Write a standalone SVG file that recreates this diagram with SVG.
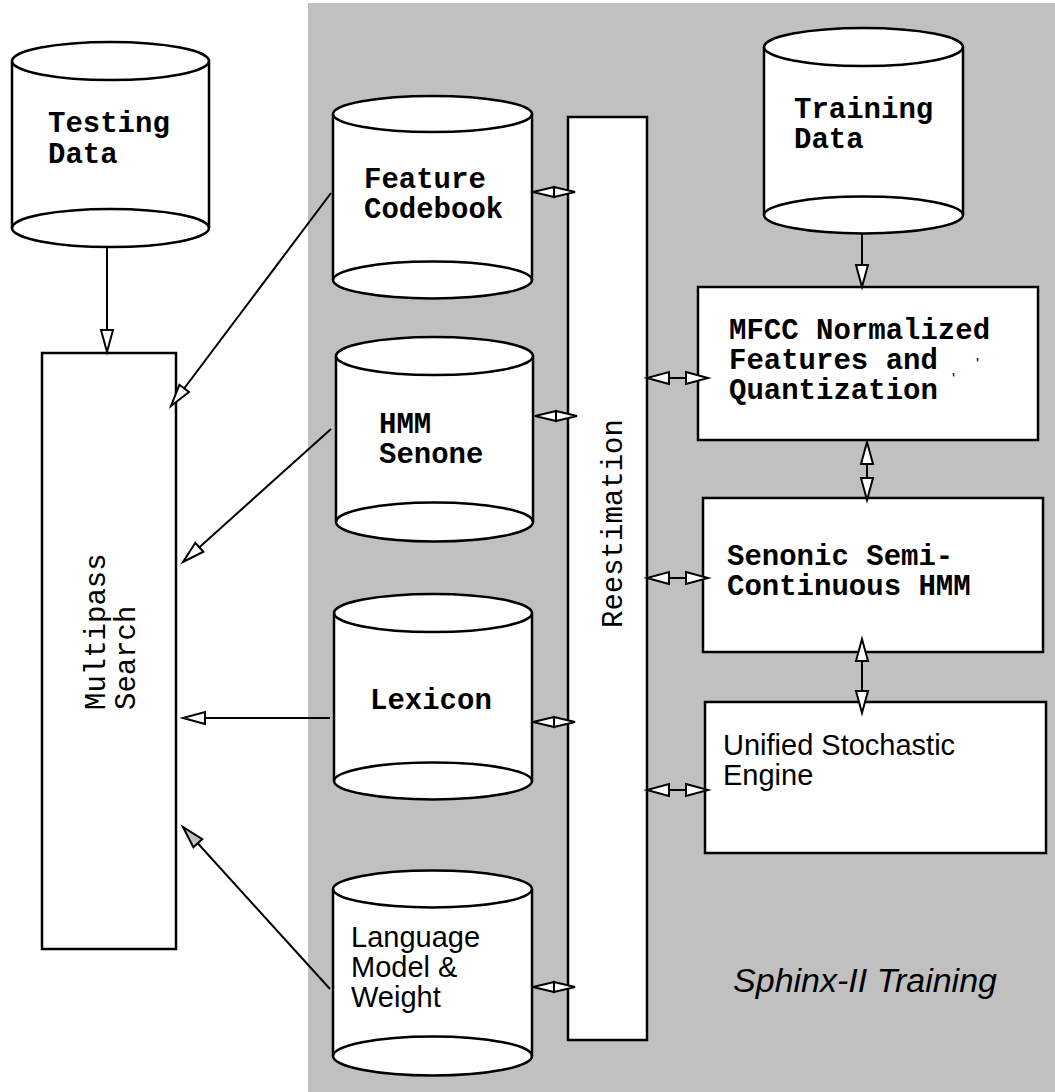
<svg xmlns="http://www.w3.org/2000/svg" width="1055" height="1092" viewBox="0 0 1055 1092">
<style>
.shape{fill:#fff;stroke:#000;stroke-width:2.5}
.fillonly{fill:#fff;stroke:none}
.side{stroke:#000;stroke-width:2.5;fill:none}
.cb{font-family:"Liberation Mono","Courier New",monospace;font-weight:bold;font-size:29px;fill:#000}
.cr{font-family:"Liberation Mono","Courier New",monospace;font-size:29px;fill:#000}
.sans{font-family:"Liberation Sans",Arial,sans-serif;font-size:29px;fill:#000}
.conn{stroke:#000;stroke-width:2;fill:none}
</style>
<defs>
<marker id="big" viewBox="0 0 22 12" refX="22" refY="6" markerWidth="22" markerHeight="12" markerUnits="userSpaceOnUse" orient="auto-start-reverse" overflow="visible">
<path d="M0,0 L22,6 L0,12 z" fill="#fff" stroke="#000" stroke-width="2"/>
</marker>
<marker id="bigGray" viewBox="0 0 22 12" refX="22" refY="6" markerWidth="22" markerHeight="12" markerUnits="userSpaceOnUse" orient="auto-start-reverse" overflow="visible">
<path d="M0,0 L22,6 L0,12 z" fill="#c0c0c0" stroke="#000" stroke-width="2"/>
</marker>
<marker id="small" viewBox="0 0 21 10" refX="21" refY="5" markerWidth="21" markerHeight="10" markerUnits="userSpaceOnUse" orient="auto-start-reverse" overflow="visible">
<path d="M0,0 L21,5 L0,10 z" fill="#fff" stroke="#000" stroke-width="2"/>
</marker>
</defs>
<rect x="308" y="3" width="747" height="1089" fill="#c0c0c0"/>

<g id="testing-data">
<rect class="fillonly" x="12" y="61" width="197" height="167"/>
<ellipse class="shape" cx="110.5" cy="228" rx="98.5" ry="19"/>
<ellipse class="shape" cx="110.5" cy="61" rx="98.5" ry="19"/>
<path class="side" d="M12,61 V228 M209,61 V228"/>
<text class="cb" x="48" y="132">Testing<tspan x="48" dy="31">Data</tspan></text>
</g>

<g id="feature-codebook">
<rect class="fillonly" x="333" y="114" width="199" height="166"/>
<ellipse class="shape" cx="432.5" cy="280" rx="99.5" ry="18.5"/>
<ellipse class="shape" cx="432.5" cy="114" rx="99.5" ry="18"/>
<path class="side" d="M333,114 V280 M532,114 V280"/>
<text class="cb" x="364" y="188">Feature<tspan x="364" dy="30">Codebook</tspan></text>
</g>

<g id="hmm-senone">
<rect class="fillonly" x="336" y="356" width="197" height="166"/>
<ellipse class="shape" cx="434.5" cy="522" rx="98.5" ry="19.5"/>
<ellipse class="shape" cx="434.5" cy="356" rx="98.5" ry="19"/>
<path class="side" d="M336,356 V522 M533,356 V522"/>
<text class="cb" x="379" y="433">HMM<tspan x="379" dy="30">Senone</tspan></text>
</g>

<g id="lexicon">
<rect class="fillonly" x="334" y="613" width="198" height="168"/>
<ellipse class="shape" cx="433" cy="781" rx="99" ry="18.5"/>
<ellipse class="shape" cx="433" cy="613" rx="99" ry="19"/>
<path class="side" d="M334,613 V781 M532,613 V781"/>
<text class="cb" x="370" y="709">Lexicon</text>
</g>

<g id="language-model">
<rect class="fillonly" x="333" y="889" width="199" height="167"/>
<ellipse class="shape" cx="432.5" cy="1056" rx="99.5" ry="19.5"/>
<ellipse class="shape" cx="432.5" cy="889" rx="99.5" ry="18.5"/>
<path class="side" d="M333,889 V1056 M532,889 V1056"/>
<text class="sans" x="351" y="947">Language<tspan x="351" dy="30">Model &amp;</tspan><tspan x="351" dy="30">Weight</tspan></text>
</g>

<g id="training-data">
<rect class="fillonly" x="764" y="47" width="199" height="168"/>
<ellipse class="shape" cx="863.5" cy="215" rx="99.5" ry="18.5"/>
<ellipse class="shape" cx="863.5" cy="47" rx="99.5" ry="19"/>
<path class="side" d="M764,47 V215 M963,47 V215"/>
<text class="cb" x="794" y="117.5">Training<tspan x="794" dy="30">Data</tspan></text>
</g>

<g id="multipass-search">
<rect class="shape" x="42" y="353" width="134" height="596"/>
<text class="cr" transform="translate(105,710) rotate(-90)">Multipass<tspan x="0" dy="30">Search</tspan></text>
</g>

<g id="reestimation">
<rect class="shape" x="568" y="117" width="79" height="923"/>
<text class="cr" transform="translate(622,628) rotate(-90)">Reestimation</text>
</g>

<g id="mfcc">
<rect class="shape" x="698" y="287" width="340" height="153"/>
<text class="cb" x="729" y="339">MFCC Normalized<tspan x="729" dy="30">Features and</tspan><tspan x="729" dy="30">Quantization</tspan></text>
<text class="sans" style="font-size:16px" x="976" y="370">'</text>
<text class="sans" style="font-size:16px" x="952" y="385">'</text>
</g>

<g id="senonic">
<rect class="shape" x="703" y="498" width="340" height="154"/>
<text class="cb" x="727" y="565">Senonic Semi-<tspan x="727" dy="30">Continuous HMM</tspan></text>
</g>

<g id="unified">
<rect class="shape" x="705" y="702" width="341" height="151"/>
<text class="sans" x="723" y="755">Unified Stochastic<tspan x="723" dy="30">Engine</tspan></text>
</g>

<g id="caption">
<text class="sans" style="font-size:34px;font-style:italic" x="997" y="992" text-anchor="end">Sphinx-II Training</text>
</g>

<g id="connectors">
<line class="conn" x1="107" y1="247" x2="107" y2="352" marker-end="url(#big)"/>
<line class="conn" x1="862" y1="234" x2="862" y2="287" marker-end="url(#big)"/>
<line class="conn" x1="331" y1="193" x2="171" y2="406" marker-end="url(#big)"/>
<line class="conn" x1="331" y1="429" x2="183" y2="562" marker-end="url(#big)"/>
<line class="conn" x1="330" y1="718" x2="183" y2="718" marker-end="url(#big)"/>
<line class="conn" x1="330" y1="989" x2="183" y2="827" marker-end="url(#bigGray)"/>
<line class="conn" x1="533" y1="192" x2="575" y2="192" marker-start="url(#small)" marker-end="url(#small)"/>
<line class="conn" x1="535" y1="416" x2="577" y2="416" marker-start="url(#small)" marker-end="url(#small)"/>
<line class="conn" x1="533" y1="722" x2="575" y2="722" marker-start="url(#small)" marker-end="url(#small)"/>
<line class="conn" x1="533" y1="987" x2="575" y2="987" marker-start="url(#small)" marker-end="url(#small)"/>
<line class="conn" x1="647" y1="378" x2="708" y2="378" marker-start="url(#big)" marker-end="url(#big)"/>
<line class="conn" x1="647" y1="578" x2="708" y2="578" marker-start="url(#big)" marker-end="url(#big)"/>
<line class="conn" x1="647" y1="790" x2="708" y2="790" marker-start="url(#big)" marker-end="url(#big)"/>
<line class="conn" x1="867" y1="442" x2="867" y2="500" marker-start="url(#big)" marker-end="url(#big)"/>
<line class="conn" x1="862" y1="639" x2="862" y2="713" marker-start="url(#big)" marker-end="url(#big)"/>
</g>
</svg>
